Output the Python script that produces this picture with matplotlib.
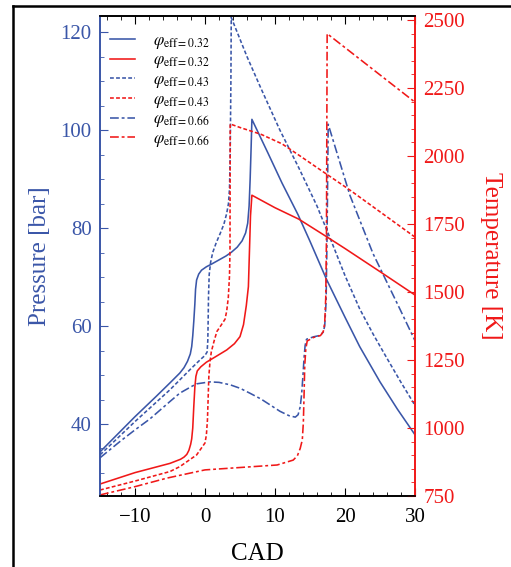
import matplotlib
matplotlib.use('Agg')
import matplotlib.pyplot as plt
from matplotlib.lines import Line2D

plt.rcParams['font.family'] = ['Liberation Serif', 'DejaVu Serif']
plt.rcParams['mathtext.fontset'] = 'stix'

BLUE = '#3A56A8'
RED = '#F01818'

# pressure traces [bar] vs CAD
cad_p1 = [-15, -10, -7, -5, -3.6, -3.0, -2.5, -2.1, -1.9, -1.75, -1.6, -1.45, -1.35, -1.2, -0.9, -0.5, 0.2, 1, 2, 3,
          3.8, 4.6, 5.3, 5.8, 6.1, 6.3, 6.45, 6.6, 6.7,
          9, 11, 13.3, 15, 17.4, 20, 22.1, 25, 27.5, 30]
p1 = [34.3, 41.5, 45.6, 48.4, 50.4, 51.5, 52.8, 54.3, 55.8, 58.0, 61.0, 64.5, 67.5, 69.4, 70.6, 71.4, 72.1, 72.7, 73.5, 74.3,
      75.1, 76.1, 77.4, 79.0, 81.0, 84.5, 90.0, 97.0, 102.2,
      95.3, 89.2, 82.7, 77.3, 69.4, 61.8, 55.8, 48.6, 43.0, 37.8]

cad_p2 = [-15, -10, -5, -2, -0.7, 0, 0.3, 0.4, 0.45, 0.5, 0.6, 0.8, 1.1, 1.6, 2.2, 2.7, 3.1, 3.35, 3.5, 3.6, 3.7, 3.75,
          6.0, 8, 10.7, 13.4, 16, 18, 20, 22.1, 24, 26, 28, 30]
p2 = [33.7, 40.5, 47.0, 51.3, 53.1, 54.0, 54.7, 57.0, 61.0, 66.0, 70.5, 73.0, 75.0, 77.0, 79.0, 80.8, 83.0, 85.0, 88.0, 95.0, 110.0, 123.0,
      115.0, 108.5, 100.0, 92.3, 84.5, 77.5, 70.3, 63.5, 58.4, 53.4, 48.5, 43.8]

cad_p3 = [-15, -12, -10, -7.9, -5, -3.6, -2, -1.2, 0.7, 2, 3.6, 5, 6.4, 8, 9.3, 10.7, 12, 12.9, 13.3, 13.6, 13.8, 14.0,
          14.15, 14.3, 14.5, 15.5, 16.5, 16.9, 17.1, 17.3, 17.45, 17.6, 20.7, 24, 27.9, 30]
p3 = [33.1, 36.6, 38.8, 41.0, 44.6, 46.3, 47.6, 48.2, 48.6, 48.5, 48.0, 47.3, 46.3, 45.1, 43.9, 42.6, 41.7, 41.4, 41.9, 43.5, 46.0, 50.0,
      53.5, 56.0, 57.3, 57.8, 58.1, 58.8, 60.0, 65.0, 80.0, 101.2, 86.7, 74.8, 63.3, 57.0]

# temperature traces [K] vs CAD
cad_t1 = [-15, -10, -5, -3.5, -3.0, -2.6, -2.3, -2.05, -1.9, -1.75, -1.6, -1.45, -1.3, -1.1, -0.6, 0.2, 1.5, 3.1, 4.2,
          5.0, 5.5, 5.9, 6.2, 6.35, 6.5, 6.7,
          10, 13.4, 17.4, 20, 25, 30]
t1 = [794, 836, 870, 885, 893, 903, 918, 940, 960, 1000, 1080, 1150, 1190, 1210, 1225, 1242, 1262, 1287, 1310,
      1336, 1380, 1450, 1520, 1650, 1780, 1856,
      1810, 1768, 1703, 1660, 1575, 1489]

cad_t2 = [-15, -10, -5, -3.6, -1.2, 0, 0.2, 0.35, 0.45, 0.55, 0.7, 0.9, 1.3, 1.7, 2.3, 2.86, 3.1, 3.33, 3.5, 3.57, 3.6,
          5, 8, 11, 13.6, 17, 20.7, 25, 30]
t2 = [772, 805, 840, 858, 901, 945, 975, 1030, 1110, 1190, 1240, 1280, 1320, 1355, 1378, 1400, 1430, 1480, 1560, 1650, 2118,
      2105, 2080, 2045, 2000, 1940, 1875, 1795, 1702]

cad_t3 = [-15, -10.2, -5.4, 0, 4, 10.3, 12.6, 13.2, 13.6, 13.9, 14.05, 14.15, 14.25, 14.4, 14.6, 15.5, 16.5, 16.9, 17.1,
          17.25, 17.35, 17.45, 30]
t3 = [754, 783, 816, 846, 853, 864, 882, 898, 925, 956, 1020, 1120, 1230, 1290, 1320, 1333, 1340, 1355, 1386,
      1480, 1700, 2450, 2198]

labels = [r'$\varphi_{\mathrm{eff}=0.32}$', r'$\varphi_{\mathrm{eff}=0.43}$', r'$\varphi_{\mathrm{eff}=0.66}$']

fig = plt.figure(figsize=(5.11, 5.67), dpi=100)
ax = fig.add_axes([100/511, 1-496/567, 315/511, 480/567])
ax2 = ax.twinx()

DOT = dict(linestyle=(0, (2.4, 1.4)))
DASHDOT = dict(linestyle=(0, (5.5, 1.8, 1.8, 1.8)))
lw = 1.15

l1, = ax.plot(cad_p1, p1, color=BLUE, lw=lw)
l3, = ax.plot(cad_p2, p2, color=BLUE, lw=lw, **DOT)
l5, = ax.plot(cad_p3, p3, color=BLUE, lw=lw, **DASHDOT)
l2, = ax2.plot(cad_t1, t1, color=RED, lw=lw)
l4, = ax2.plot(cad_t2, t2, color=RED, lw=lw, **DOT)
l6, = ax2.plot(cad_t3, t3, color=RED, lw=lw, **DASHDOT)

ax.set_xlim(-15, 30)
ax.set_ylim(25.3, 123.3)
ax2.set_ylim(750, 2515)

ax.set_xticks([-10, 0, 10, 20, 30])
ax.set_xticks(range(-14, 31, 2), minor=True)
ax.set_yticks([40, 60, 80, 100, 120])
ax.set_yticks(range(30, 124, 5), minor=True)
ax2.set_yticks([750, 1000, 1250, 1500, 1750, 2000, 2250, 2500])
ax2.set_yticks(range(750, 2516, 50), minor=True)

ax.tick_params(axis='x', which='both', direction='in', top=True, labelsize=15, pad=9, color='black')
ax.tick_params(axis='x', which='major', length=6)
ax.tick_params(axis='x', which='minor', length=3)
ax.tick_params(axis='y', which='both', direction='in', colors=BLUE, labelsize=15, pad=6)
ax.tick_params(axis='y', which='major', length=6)
ax.tick_params(axis='y', which='minor', length=3)
ax2.tick_params(axis='y', which='both', direction='in', colors=RED, labelsize=15, pad=6)
ax2.tick_params(axis='y', which='major', length=6)
ax2.tick_params(axis='y', which='minor', length=3)

for a in (ax, ax2):
    a.spines['left'].set_color(BLUE)
    a.spines['right'].set_color(RED)
    for s in a.spines.values():
        s.set_linewidth(1.2)

ax.set_xlabel('CAD', fontsize=18)
ax.xaxis.set_label_coords(0.5, -0.098)
ax.set_ylabel('Pressure [bar]', fontsize=18, color=BLUE)
ax.yaxis.set_label_coords(-0.155, 0.5)
ax2.set_ylabel('Temperature [K]', fontsize=18, color=RED, rotation=270, va='center')
ax2.yaxis.set_label_coords(1.24, 0.5)

handles = [l1, l2, l3, l4, l5, l6]
leg_labels = [labels[0], labels[0], labels[1], labels[1], labels[2], labels[2]]
ax2.legend(handles, leg_labels, loc='upper left', bbox_to_anchor=(0.032, 0.965), frameon=False,
           fontsize=12, handlelength=1.5, handletextpad=1.1, labelspacing=0.1, borderaxespad=0, borderpad=0)

# outer frame: only its top and left edges fall inside the picture
top_y = 1 - 5.5/567
left_x = 13/511
fig.add_artist(Line2D([left_x, 1.1], [top_y, top_y], transform=fig.transFigure, color='black', lw=1.8))
fig.add_artist(Line2D([left_x, left_x], [-0.1, top_y], transform=fig.transFigure, color='black', lw=1.8))

fig.savefig('out.png', dpi=100)
